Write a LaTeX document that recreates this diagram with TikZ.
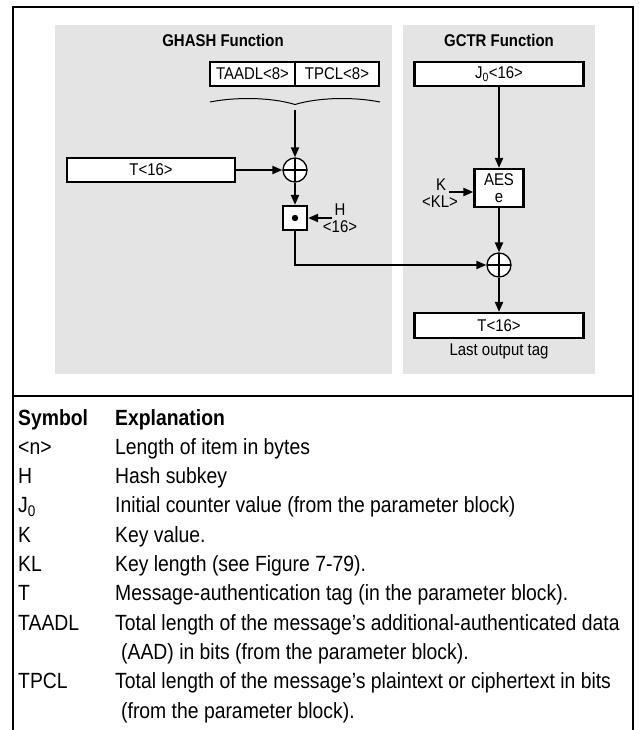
\documentclass[tikz,border=0pt]{standalone}
\usepackage{fontspec}
\setmainfont{Liberation Sans}[FakeStretch=0.88]
\usetikzlibrary{arrows.meta}
\definecolor{panelgray}{RGB}{228,228,228}
\begin{document}
\begin{tikzpicture}[x=1pt,y=-1pt,
  box/.style={draw, line width=2.2pt, fill=white, inner sep=0pt, font=\fontsize{17}{17}\selectfont},
  conn/.style={line width=2pt, -{Triangle[length=10pt,width=8pt]}},
  xorn/.style={circle, draw, line width=1.3pt, fill=white, minimum size=24pt, inner sep=0pt,
    path picture={\draw[black, line width=1.3pt] (path picture bounding box.north) -- (path picture bounding box.south)
      (path picture bounding box.west) -- (path picture bounding box.east);}},
  lab/.style={inner sep=0pt, anchor=base, font=\fontsize{17}{17}\selectfont},
  ttl/.style={inner sep=0pt, font=\fontsize{17}{17}\selectfont\bfseries},
  leg/.style={inner sep=0pt, anchor=base west, font=\fontsize{22}{22}\selectfont},
]
\useasboundingbox (0,0) rectangle (638,730);
% panels
\fill[panelgray] (55,25) rectangle (392,374);
\fill[panelgray] (403,25) rectangle (595,374);
% frame
\draw[line width=2pt] (13,731) -- (13,7) -- (633,7) -- (633,731);
\draw[line width=2pt] (13,396) -- (633,396);
% titles
\node[ttl] (tg) at (223,40) {GHASH Function};
\node[ttl] (tc) at (499,40) {GCTR Function};
% GHASH
\node[box, minimum width=85pt, minimum height=24pt] (taadl) at (252.5,74) {TAADL<8>};
\node[box, minimum width=84pt, minimum height=24pt] (tpcl) at (337,74) {TPCL<8>};
\coordinate (bt) at (295,104.5);
\coordinate (bs) at (295,110);
\draw[line width=1pt] (210,102) .. controls (235,97) and (270,97) .. (bt) .. controls (320,97) and (355,97) .. (380,102);
\node[box, minimum width=168pt, minimum height=24pt] (tin) at (151,170) {T<16>};
\node[xorn] (x1) at (295,170) {};
\node[box, minimum width=24pt, minimum height=24pt] (mul) at (295,218) {};
\fill (mul.center) circle (3.2pt);
\node[lab] (hl) at (340,215) {H};
\node[lab] (hn) at (340,232) {<16>};
\coordinate (ht) at (332,218);
% GCTR
\node[box, minimum width=169pt, minimum height=24pt] (j0) at (499,74) {J\textsubscript{0}<16>};
\node[box, minimum width=49pt, minimum height=38pt, align=center] (aes) at (499,188) {AES\\e};
\node[lab] (kl) at (441,190) {K};
\node[lab] (kn) at (440,207) {<KL>};
\coordinate (kt) at (449,192);
\node[xorn] (x2) at (499,265) {};
\node[box, minimum width=169pt, minimum height=25pt] (tout) at (499,325.5) {T<16>};
\node[lab] (lot) at (499,355) {Last output tag};
% connectors
\draw[conn] (bs) -- (x1.north);
\draw[conn] (tin.east) -- (x1.west);
\draw[conn] (x1.south) -- (mul.north);
\draw[conn] (ht) -- (mul.east);
\draw[conn] (mul.south) |- (x2.west);
\draw[conn] (j0.south) -- (aes.north);
\draw[conn] (kt) -- (kt -| aes.west);
\draw[conn] (aes.south) -- (x2.north);
\draw[conn] (x2.south) -- (tout.north);
% legend
\node[leg] (s0) at (18,425) {\bfseries Symbol};
\node[leg] (e0) at (115,425) {\bfseries Explanation};
\node[leg] (s1) at (18,454.3) {<n>};
\node[leg] (e1) at (115,454.3) {Length of item in bytes};
\node[leg] (s2) at (18,483.6) {H};
\node[leg] (e2) at (115,483.6) {Hash subkey};
\node[leg] (s3) at (18,512.9) {J\textsubscript{0}};
\node[leg] (e3) at (115,512.9) {Initial counter value (from the parameter block)};
\node[leg] (s4) at (18,542.2) {K};
\node[leg] (e4) at (115,542.2) {Key value.};
\node[leg] (s5) at (18,571.5) {KL};
\node[leg] (e5) at (115,571.5) {Key length (see Figure 7-79).};
\node[leg] (s6) at (18,600.8) {T};
\node[leg] (e6) at (115,600.8) {Message-authentication tag (in the parameter block).};
\node[leg] (s7) at (18,630.1) {TAADL};
\node[leg] (e7) at (115,630.1) {Total length of the message’s additional-authenticated data};
\node[leg] (e7b) at (121,659.4) {(AAD) in bits (from the parameter block).};
\node[leg] (s8) at (18,688.7) {TPCL};
\node[leg] (e8) at (115,688.7) {Total length of the message’s plaintext or ciphertext in bits};
\node[leg] (e8b) at (121,718) {(from the parameter block).};
\end{tikzpicture}
\end{document}
